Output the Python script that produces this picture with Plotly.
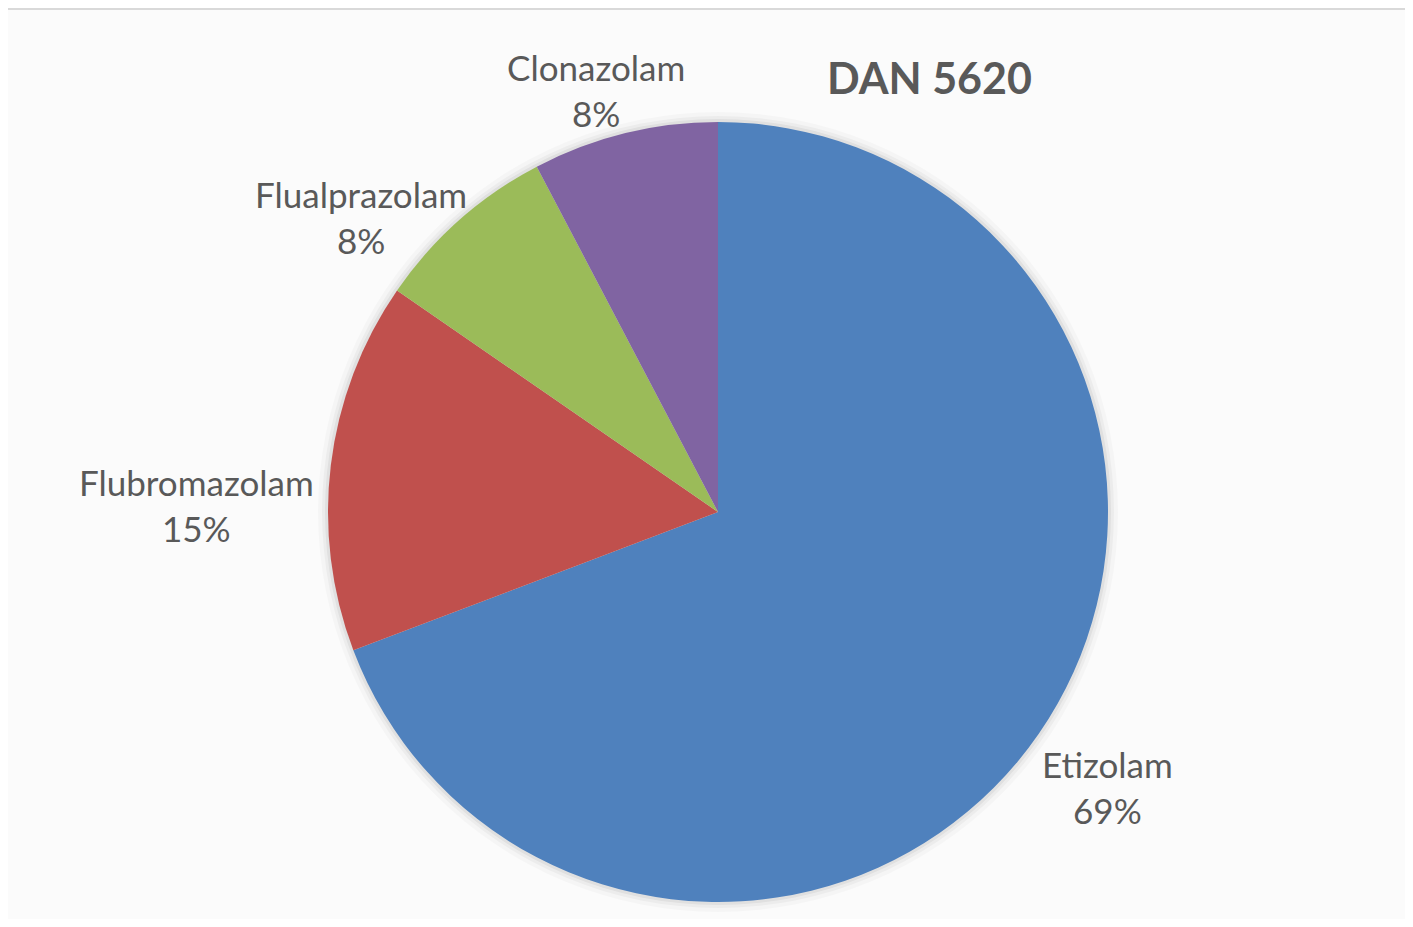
import plotly.graph_objects as go

categories = ["Etizolam", "Flubromazolam", "Flualprazolam", "Clonazolam"]
counts = [9, 2, 1, 1]
colors = ["#4F81BD", "#C0504D", "#9BBB59", "#8064A2"]
title_text = "DAN 5620"

# label centre positions (pixels in the reference image)
label_pos = {
    "Etizolam": (1107, 787),
    "Flubromazolam": (196, 505),
    "Flualprazolam": (361, 217),
    "Clonazolam": (596, 90),
}

OFF = 8  # page body margin
W, H = 1413 - 2 * OFF, 927 - 2 * OFF
cx, cy, R = 718 - OFF, 512 - OFF, 390
FONT = "Lato, Open Sans, sans-serif"
TXT = "#595959"

fig = go.Figure()

fig.add_shape(type="rect", xref="paper", yref="paper",
              x0=(7 - OFF) / W, x1=1.02, y0=-0.02, y1=1 - (9 - OFF) / H,
              fillcolor="#fbfbfb", line=dict(color="#d9d9d9", width=2), layer="below")

# soft shadow behind the pie
for k, a in [(10, 0.025), (6, 0.035), (3, 0.05)]:
    fig.add_shape(type="circle", xref="paper", yref="paper",
                  x0=(cx - R - k) / W, x1=(cx + R + k) / W,
                  y0=1 - (cy + R + k) / H, y1=1 - (cy - R - k) / H,
                  fillcolor=f"rgba(0,0,0,{a})", line=dict(width=0), layer="below")

fig.add_trace(go.Pie(
    labels=categories,
    values=counts,
    sort=False,
    direction="clockwise",
    rotation=0,
    marker=dict(colors=colors, line=dict(width=0)),
    textinfo="none",
    domain=dict(x=[(cx - R) / W, (cx + R) / W], y=[1 - (cy + R) / H, 1 - (cy - R) / H]),
    showlegend=False,
    hoverinfo="label+percent",
))

total = sum(counts)
for cat, v in zip(categories, counts):
    px, py = label_pos[cat]
    fig.add_annotation(text=f"{cat}<br>{round(100 * v / total)}%",
                       xref="paper", yref="paper",
                       x=(px - OFF) / W, y=1 - (py - OFF) / H,
                       xanchor="center", yanchor="middle", showarrow=False, align="center",
                       font=dict(family=FONT, size=35, color=TXT))

fig.add_annotation(text="<b>" + title_text + "</b>", xref="paper", yref="paper",
                   x=(930 - OFF) / W, y=1 - (77 - OFF) / H,
                   xanchor="center", yanchor="middle", showarrow=False,
                   font=dict(family=FONT, size=43, color=TXT))

fig.update_layout(width=W, height=H, margin=dict(l=0, r=0, t=0, b=0, autoexpand=False),
                  paper_bgcolor="#fbfbfb", plot_bgcolor="#fbfbfb")

fig.write_html("out.html")
